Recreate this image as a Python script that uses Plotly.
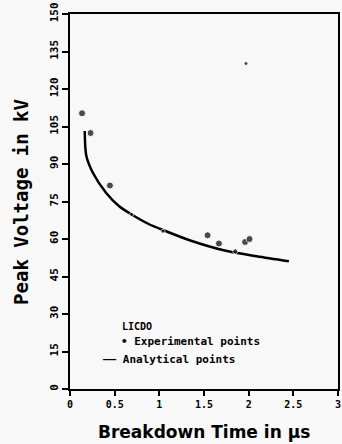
import plotly.graph_objects as go

# Experimental points (breakdown time in µs, peak voltage in kV)
exp_time = [0.135, 0.23, 0.447, 0.69, 1.04, 1.54, 1.667, 1.85, 1.96, 2.01, 1.97]
exp_volt = [110.3, 102.4, 81.4, 69.8, 63.1, 61.5, 58.2, 55.1, 58.8, 60.0, 130.2]
exp_size = [7, 7, 7, 4, 4, 7, 7, 5, 7, 7, 4]

# Analytical curve
ana_time = [0.165, 0.183, 0.256, 0.403, 0.55, 0.69, 0.88, 1.04, 1.355, 1.72, 2.09, 2.45]
ana_volt = [103.2, 93.2, 86.5, 78.5, 73.1, 69.8, 66.0, 63.6, 59.3, 55.5, 53.1, 51.1]

x_ticks = [0, 0.5, 1, 1.5, 2, 2.5, 3]
x_tick_labels = ["0", "0.5", "1", "1.5", "2", "2.5", "3"]
y_ticks = [0, 15, 30, 45, 60, 75, 90, 105, 120, 135, 150]
y_tick_labels = [str(v) for v in y_ticks]

mono = "DejaVu Sans Mono"

fig = go.Figure()
fig.add_trace(go.Scatter(x=ana_time, y=ana_volt, mode="lines",
                         line=dict(color="black", width=2.5, shape="spline", smoothing=0.8),
                         name="Analytical points", showlegend=False))
fig.add_trace(go.Scatter(x=exp_time, y=exp_volt, mode="markers",
                         marker=dict(color="black", size=exp_size),
                         name="Experimental points", showlegend=False))

axis_common = dict(showline=True, linecolor="black", linewidth=2, mirror=True,
                   ticks="outside", tickcolor="black", tickwidth=2,
                   showgrid=False, zeroline=False)

fig.update_xaxes(range=[0, 3], tickvals=x_ticks, ticktext=x_tick_labels, ticklen=5,
                 tickfont=dict(family=mono, size=10, color="black", weight="bold"),
                 **axis_common)
fig.update_yaxes(range=[0, 150], tickvals=y_ticks, ticktext=y_tick_labels, ticklen=6,
                 tickangle=-90,
                 tickfont=dict(family=mono, size=11, color="black", weight="bold"),
                 **axis_common)

annotations = [
    dict(text="Breakdown Time in \u03bcs", xref="paper", yref="paper",
         x=0.5, y=-0.115, xanchor="center", yanchor="middle", showarrow=False,
         font=dict(family="DejaVu Sans", size=17, color="black", weight="bold")),
    dict(text="Peak Voltage in kV", xref="paper", yref="paper",
         x=-0.185, y=0.5, xanchor="center", yanchor="middle", showarrow=False,
         textangle=-90,
         font=dict(family=mono, size=19, color="black", weight="bold")),
    dict(text="LICDO", xref="paper", yref="paper", x=0.188, y=0.168,
         xanchor="left", yanchor="middle", showarrow=False,
         font=dict(family=mono, size=10, color="black", weight="bold")),
    dict(text="\u2022 Experimental points", xref="paper", yref="paper", x=0.181, y=0.128,
         xanchor="left", yanchor="middle", showarrow=False,
         font=dict(family=mono, size=11, color="black", weight="bold")),
    dict(text="\u2014\u2014 Analytical points", xref="paper", yref="paper", x=0.114, y=0.08,
         xanchor="left", yanchor="middle", showarrow=False,
         font=dict(family=mono, size=11, color="black", weight="bold")),
]

fig.update_layout(width=342, height=444,
                  margin=dict(l=70, r=2, t=14, b=55),
                  paper_bgcolor="#f8f8f8", plot_bgcolor="#f8f8f8",
                  showlegend=False, annotations=annotations)

fig.write_html("out.html", config={"displayModeBar": False},
               post_script="document.body.style.margin='0';document.body.style.background='#f8f8f8';")
